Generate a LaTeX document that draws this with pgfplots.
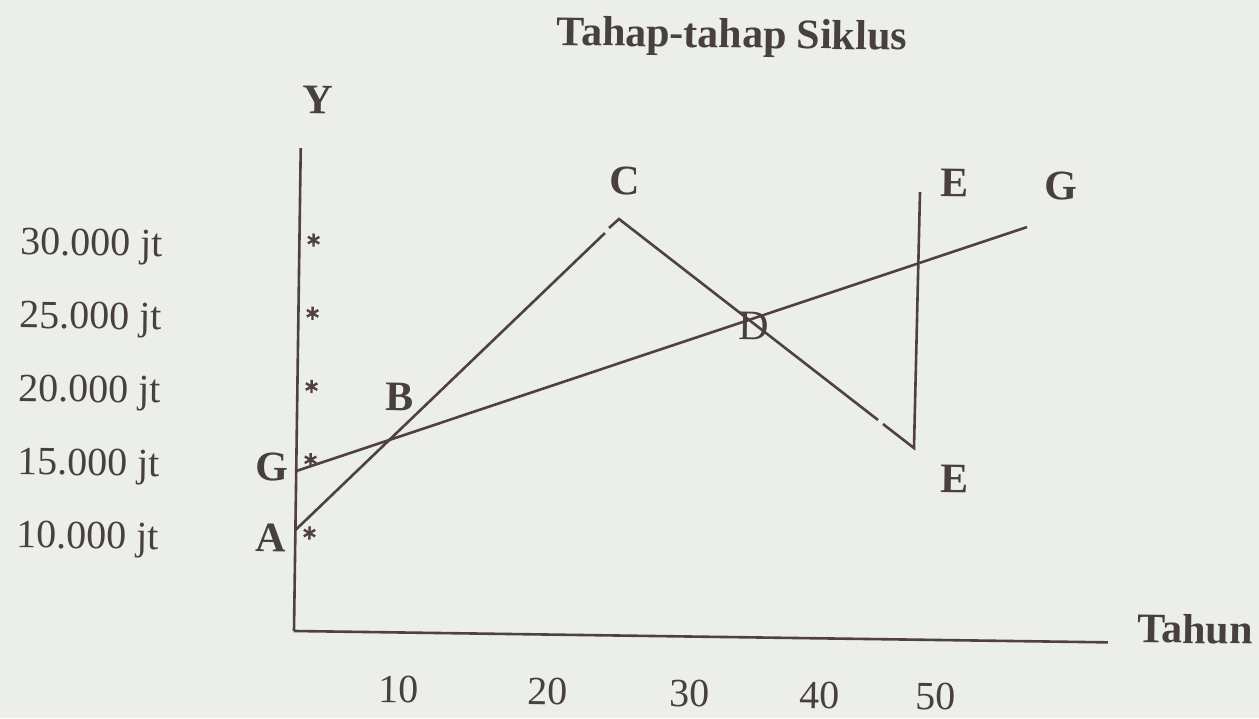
\documentclass[border=0pt]{standalone}
\usepackage{pgfplots}
\pgfplotsset{compat=1.18}
\usepackage{fontspec}
\setmainfont{Liberation Serif}

\definecolor{ink}{RGB}{80,65,64}
\definecolor{txt}{RGB}{72,64,64}
\definecolor{paper}{RGB}{236,238,233}

\tikzset{
  lbl/.style={font=\bfseries\fontsize{21}{24}\selectfont, text=txt, inner sep=0pt, anchor=center},
  lblreg/.style={font=\fontsize{21}{24}\selectfont, text=txt, inner sep=0pt, anchor=center},
}

\begin{document}
\begin{tikzpicture}
\fill[paper] (-147pt,-43.5pt) rectangle (482.5pt,315.5pt);
\begin{scope}[transform canvas={rotate=-0.8}]
\begin{axis}[
  scale only axis, width=407pt, height=241.5pt,
  xmin=0, xmax=63.31, ymin=3.30, ymax=36.27,
  axis lines=left,
  axis line style={-, line width=1.3pt, draw=ink},
  clip=false,
  major tick length=0pt,
  xtick={8.23,19.82,30.87,40.98,50.0},
  xticklabels={10,20,30,40,50},
  ytick={10,15,20,25,30},
  yticklabels={10.000 jt,15.000 jt,20.000 jt,25.000 jt,30.000 jt},
  tick label style={font=\fontsize{20}{24}\selectfont, text=txt, inner sep=0pt},
  xticklabel style={anchor=base, yshift=-35pt},
  yticklabel style={anchor=base east, xshift=-68pt, yshift=-9.3pt},
  /pgf/number format/assume math mode=true,
  xlabel={Tahun},
  xlabel style={at={(axis cs:70.07,4.30)}, anchor=center, font=\bfseries\fontsize{21}{24}\selectfont, text=txt, inner sep=0pt},
  ylabel={Y},
  ylabel style={rotate=-90, at={(axis cs:1.29,39.56)}, anchor=center, font=\bfseries\fontsize{21}{24}\selectfont, text=txt, inner sep=0pt},
  title={Tahap-tahap Siklus},
  title style={at={(axis cs:33.42,43.40)}, anchor=center, font=\bfseries\fontsize{21}{24}\selectfont, text=txt, inner sep=0pt},
]
% rise A -> C (small break just below the peak)
\addplot[ink, line width=1.3pt] coordinates {(0,10.19) (23.75,30.76)};
% peak C, fall towards E (small break before the trough)
\addplot[ink, line width=1.3pt] coordinates {(24.06,31.11) (24.83,31.73) (45.19,18.26)};
% trough E and the jump back up
\addplot[ink, line width=1.3pt] coordinates {(45.58,17.99) (48.02,16.38) (48.21,33.86)};
% trend line G
\addplot[ink, line width=1.3pt] coordinates {(0,14.22) (56.57,31.57)};
% level markers on the Y axis
\addplot[ink, only marks, mark=asterisk, mark size=3.3pt, mark options={line width=1.2pt}]
  coordinates {(1.1,10) (1.1,15) (1.1,20) (1.1,25) (1.1,30)};

\node[lbl] at (axis cs:-1.89,9.62) {A};
\node[lbl] at (axis cs:-1.89,14.47) {G};
\node[lbl] at (axis cs:7.99,19.37) {B};
\node[lbl] at (axis cs:25.25,34.33) {C};
\node[lblreg] at (axis cs:35.44,24.55) {D};
\node[lbl] at (axis cs:50.92,34.51) {E};
\node[lbl] at (axis cs:51.24,14.30) {E};
\node[lbl] at (axis cs:59.17,34.40) {G};
\end{axis}
\end{scope}
\pgfresetboundingbox
\path (-147pt,-43.5pt) rectangle (482.5pt,315.5pt);
\end{tikzpicture}
\end{document}
